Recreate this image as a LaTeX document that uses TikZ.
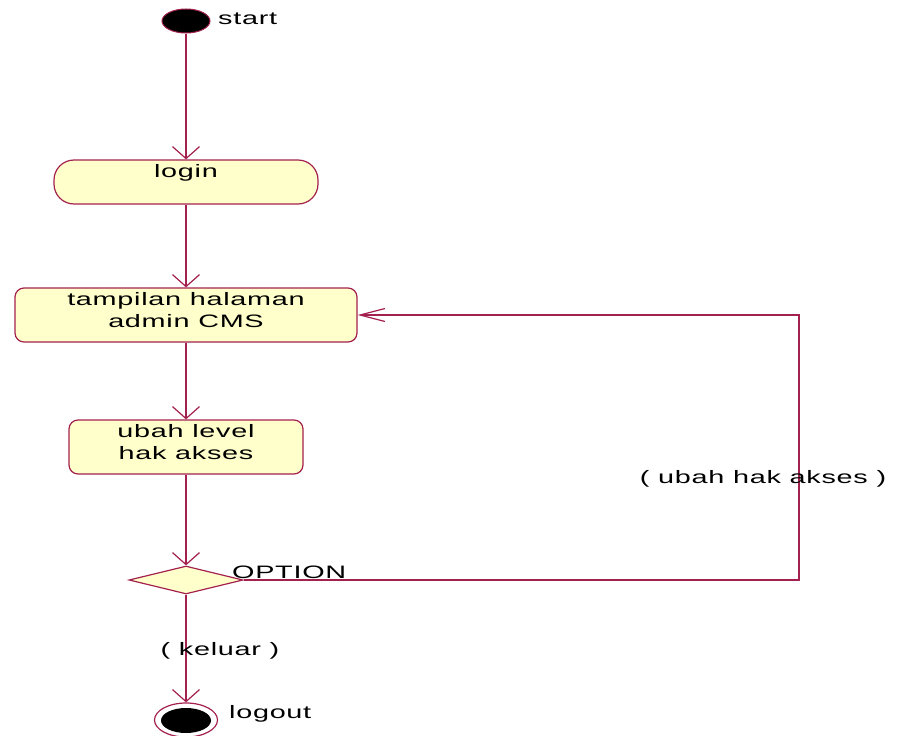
\documentclass[tikz,border=0pt]{standalone}
\usepackage{fontspec}
\setmainfont[FakeStretch=1.6,LetterSpace=4]{Liberation Sans}
\usetikzlibrary{shapes.geometric,arrows.meta}
\definecolor{ln}{HTML}{A3214E}
\definecolor{fl}{HTML}{FFFFCC}
\newcommand{\twolines}[2]{\raisebox{3pt}[\height][\depth]{\begin{tabular}{@{}c@{}}#1\\#2\end{tabular}}}
\tikzset{
  flow/.style={draw=ln,line width=1.6pt,-{Straight Barb[length=12pt,width=27pt,line width=1.2pt]}},
  flowh/.style={draw=ln,line width=1.6pt,-{Straight Barb[length=25pt,width=13pt,line width=1.2pt]}},
  actbox/.style={draw=ln,line width=1.2pt,fill=fl,rectangle,rounded corners=9pt,inner sep=0pt,font=\fontsize{18}{22}\selectfont},
  lbl/.style={inner sep=0pt,font=\fontsize{18}{22}\selectfont},
}
\begin{document}
\begin{tikzpicture}[x=1pt,y=-1pt]
\useasboundingbox (0,0) rectangle (900,736);
\node[ellipse,draw=ln,line width=1pt,fill=black,minimum width=48pt,minimum height=24pt,inner sep=0pt] (start) at (186,21) {};
\node[lbl,anchor=west] (startl) at (218,19) {start};
\node[actbox,rounded corners=20pt,minimum width=264pt,text height=17pt,text depth=27pt] (login) at (186,182) {login};
\node[actbox,minimum width=342pt,minimum height=54pt] (tamp) at (186,315) {\twolines{tampilan halaman}{admin CMS}};
\node[actbox,minimum width=234pt,minimum height=54pt] (ubah) at (186,447) {\twolines{ubah level}{hak akses}};
\node[diamond,draw=ln,line width=1.2pt,fill=fl,minimum width=114pt,minimum height=28pt,inner sep=0pt,aspect=4] (opt) at (186,580) {};
\node[lbl,anchor=west] (optl) at (232,572) {OPTION};
\node[ellipse,draw=ln,line width=1.2pt,minimum width=63pt,minimum height=34pt,inner sep=0pt] (endo) at (186,720) {};
\node[ellipse,fill=black,minimum width=50pt,minimum height=25pt,inner sep=0pt] (endi) at (186,720.5) {};
\node[lbl,anchor=west] (endl) at (229,714) {logout};
\coordinate (c1) at (799,580);
\coordinate (c2) at (799,315);
\draw[flow] (start) -- (login.north);
\draw[flow] (login.south) -- (tamp.north);
\draw[flow] (tamp.south) -- (ubah.north);
\draw[flow] (ubah.south) -- (opt.north);
\draw[flowh] (opt.east) -- (c1) -- (c2) -- (tamp.east |- c2);
\draw[flow] (opt.south) -- (endo.north);
\node[lbl] (kel) at (220,651) {( keluar )};
\node[lbl] (uha) at (763,479) {( ubah hak akses )};
\end{tikzpicture}
\end{document}
